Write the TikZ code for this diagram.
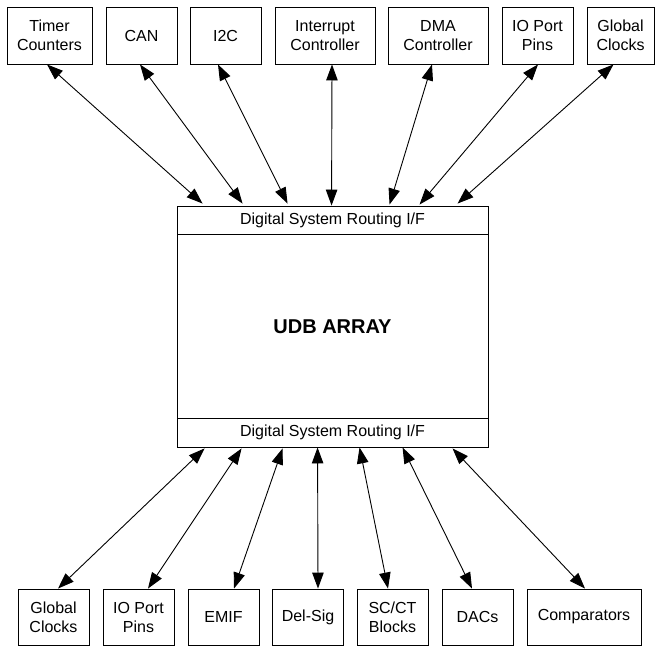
\documentclass[tikz,border=0pt]{standalone}
\usepackage{fontspec}
\setmainfont{Liberation Sans}
\usetikzlibrary{arrows.meta, calc}

\begin{document}
\begin{tikzpicture}[x=1pt, y=-1pt, line width=0.9pt,
    >={Triangle[length=16pt, width=11.5pt]},
    block/.style={draw, minimum height=57pt, inner sep=2pt,
                  font=\fontsize{16}{19}\selectfont, align=center},
    strip/.style={draw, minimum width=311pt, minimum height=28pt,
                  inner sep=0pt, font=\fontsize{16}{19}\selectfont},
    link/.style={<->}]
  \useasboundingbox (0,0) rectangle (655,647);

  % Blocks above the array
  \node[block, minimum width=85pt] (timer) at (49.5,35.5) {Timer\\Counters};
  \node[block, minimum width=71pt] (can) at (141.5,35.5) {CAN};
  \node[block, minimum width=71pt] (itwoc) at (225.5,35.5) {I2C};
  \node[block, minimum width=100pt] (intr) at (325,35.5) {Interrupt\\Controller};
  \node[block, minimum width=100pt] (dma) at (438,35.5) {DMA\\Controller};
  \node[block, minimum width=71pt] (ioup) at (537.5,35.5) {IO Port\\Pins};
  \node[block, minimum width=67pt] (clkup) at (620.5,35.5) {Global\\Clocks};

  % UDB array with its two routing interfaces
  \node[draw, minimum width=311pt, minimum height=241pt,
        font=\bfseries\fontsize{20}{23}\selectfont] (udb) at (332.5,326.5) {UDB ARRAY};
  \node[strip, anchor=north] (rtop) at (udb.north) {Digital System Routing I/F};
  \node[strip, anchor=south, minimum height=29pt] (rbot) at (udb.south) {Digital System Routing I/F};

  % Blocks below the array
  \node[block, minimum width=71pt, minimum height=56pt] (clkdn) at (53.5,617) {Global\\Clocks};
  \node[block, minimum width=71pt, minimum height=56pt] (iodn) at (138.5,617) {IO Port\\Pins};
  \node[block, minimum width=71pt, minimum height=56pt] (emif) at (223.5,617) {EMIF};
  \node[block, minimum width=71pt, minimum height=56pt] (delsig) at (308,617) {Del-Sig};
  \node[block, minimum width=71pt, minimum height=56pt] (scct) at (392.5,617) {SC/CT\\Blocks};
  \node[block, minimum width=71pt, minimum height=56pt] (dacs) at (477.5,617) {DACs};
  \node[block, minimum width=114pt, minimum height=56pt] (comp) at (584,617) {Comparators};

  % Links to the upper interface
  \draw[link] ($(timer.south)+(-2.5,0)$) -- ($(rtop.north west)+(26,-2)$);
  \draw[link] ($(can.south)+(-1.5,0)$) -- ($(rtop.north west)+(66,-2)$);
  \draw[link] ($(itwoc.south)+(-7.5,0)$) -- ($(rtop.north west)+(111,-2)$);
  \draw[link] ($(intr.south)+(7,0)$) -- ($(rtop.north west)+(155,0)$);
  \draw[link] ($(dma.south)+(-6,0)$) -- ($(rtop.north west)+(213,-1)$);
  \draw[link] ($(ioup.south)+(0.5,0)$) -- ($(rtop.north west)+(243,-1)$);
  \draw[link] ($(clkup.south)+(-7,0)$) -- ($(rtop.north west)+(281,-2)$);

  % Links to the lower interface
  \draw[link] ($(rbot.south west)+(28,1)$) -- ($(clkdn.north)+(4.5,0)$);
  \draw[link] ($(rbot.south west)+(65,1)$) -- ($(iodn.north)+(9.5,0)$);
  \draw[link] ($(rbot.south west)+(106,1)$) -- ($(emif.north)+(10.5,0)$);
  \draw[link] ($(rbot.south west)+(141,0)$) -- ($(delsig.north)+(10,0)$);
  \draw[link] ($(rbot.south west)+(183,0)$) -- ($(scct.north)+(-4.5,0)$);
  \draw[link] ($(rbot.south west)+(226,0)$) -- ($(dacs.north)+(-5.5,0)$);
  \draw[link] ($(rbot.south west)+(276,1)$) -- ($(comp.north)+(1,0)$);
\end{tikzpicture}
\end{document}
